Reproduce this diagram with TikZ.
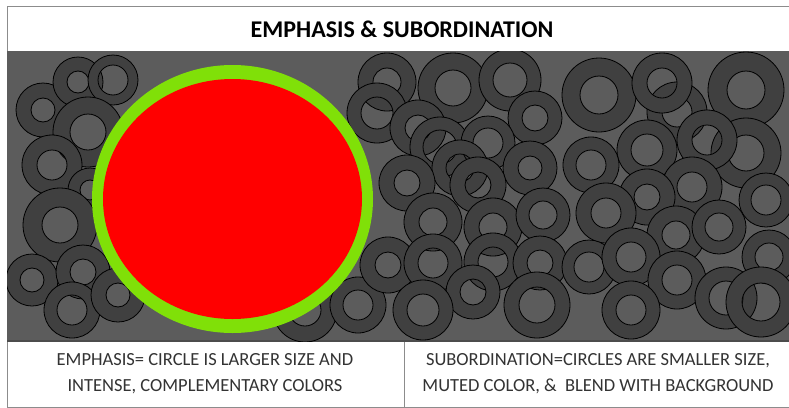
\documentclass[tikz,border=0pt]{standalone}
\usepackage{fontspec}
\setmainfont{Carlito}
\usetikzlibrary{positioning}

\definecolor{panelgray}{RGB}{92,92,92}
\definecolor{ringgray}{RGB}{64,64,64}
\definecolor{limegreen}{RGB}{128,224,8}
\definecolor{boxline}{RGB}{140,140,140}

\begin{document}
\begin{tikzpicture}
  [
    x=1pt, y=-1pt,
    ring/.style    = {draw=black, line width=0.8pt, fill=ringgray, even odd rule},
    box/.style     = {draw=boxline, line width=0.8pt, fill=white},
    caption/.style = {align=center, text=black!80, font=\fontsize{18.5}{26}\selectfont},
  ]

  \useasboundingbox (0,0) rectangle (789,407);

  % the boxes
  \draw[box] (7,6) rectangle (789,51);
  \fill[panelgray] (7,51) rectangle (789,341);
  \draw[box] (7,341) rectangle (404,407);
  \draw[box] (404,341) rectangle (789,407);
  \draw[black!70, line width=1.2pt] (7,341) -- (789,341);

  % the small rings (x/y/outer/inner)
  \begin{scope}
    \clip (7,51) rectangle (789,341);
    \foreach \cx/\cy/\ro/\ri in {
        43/110/27/12, 78/82/25/11, 113/80/25/15, 88/132/35/18,
        52/165/30/15, 90/190/22/10, 60/225/37/18, 32/280/26/12,
        83/272/27/13, 72/310/28/15, 118/295/27/12, 305/310/32/16,
        358/305/28/15,
        387/82/29/14, 377/113/30/16, 453/88/35/18, 510/80/31/17,
        535/118/27/13, 418/128/28/13, 440/147/30/17, 488/143/27/15,
        460/168/28/14, 530/168/27/12, 407/183/28/13, 478/185/28/13,
        433/222/29/14, 493/227/29/14, 543/215/27/14, 388/265/28/13,
        433/263/29/15, 493/262/29/15, 540/263/27/13, 473/292/27/13,
        423/310/30/16, 537/305/33/18,
        599/95/37/19, 677/112/30/15, 662/83/30/15, 746/90/38/19,
        746/153/35/18, 647/150/30/16, 707/140/30/15, 591/165/28/15,
        692/187/30/15, 647/197/28/13, 766/200/27/15, 606/213/30/15,
        676/235/29/14, 719/227/27/14, 589/267/27/15, 631/257/29/15,
        677/280/29/15, 769/257/27/14, 631/310/29/15, 726/298/31/17,
        761/302/35/19}
      \draw[ring] (\cx,\cy) circle (\ro pt) circle (\ri pt);
  \end{scope}

  % the big circle
  \coordinate (focus) at (232.5,199);
  \fill[limegreen] (focus) ellipse [x radius=140.5pt, y radius=134pt];
  \fill[red] (focus) ellipse [x radius=129.5pt, y radius=120pt];

  % the texts
  \node (title) at (402,29) [font=\bfseries\fontsize{24}{28}\selectfont] {EMPHASIS \& SUBORDINATION};
  \node (emphasis) at (205,374) [caption] {EMPHASIS= CIRCLE IS LARGER SIZE AND\\INTENSE, COMPLEMENTARY COLORS};
  \node (subordination) at (598,374) [caption] {SUBORDINATION=CIRCLES ARE SMALLER SIZE,\\MUTED COLOR, \&~ BLEND WITH BACKGROUND};

\end{tikzpicture}
\end{document}
